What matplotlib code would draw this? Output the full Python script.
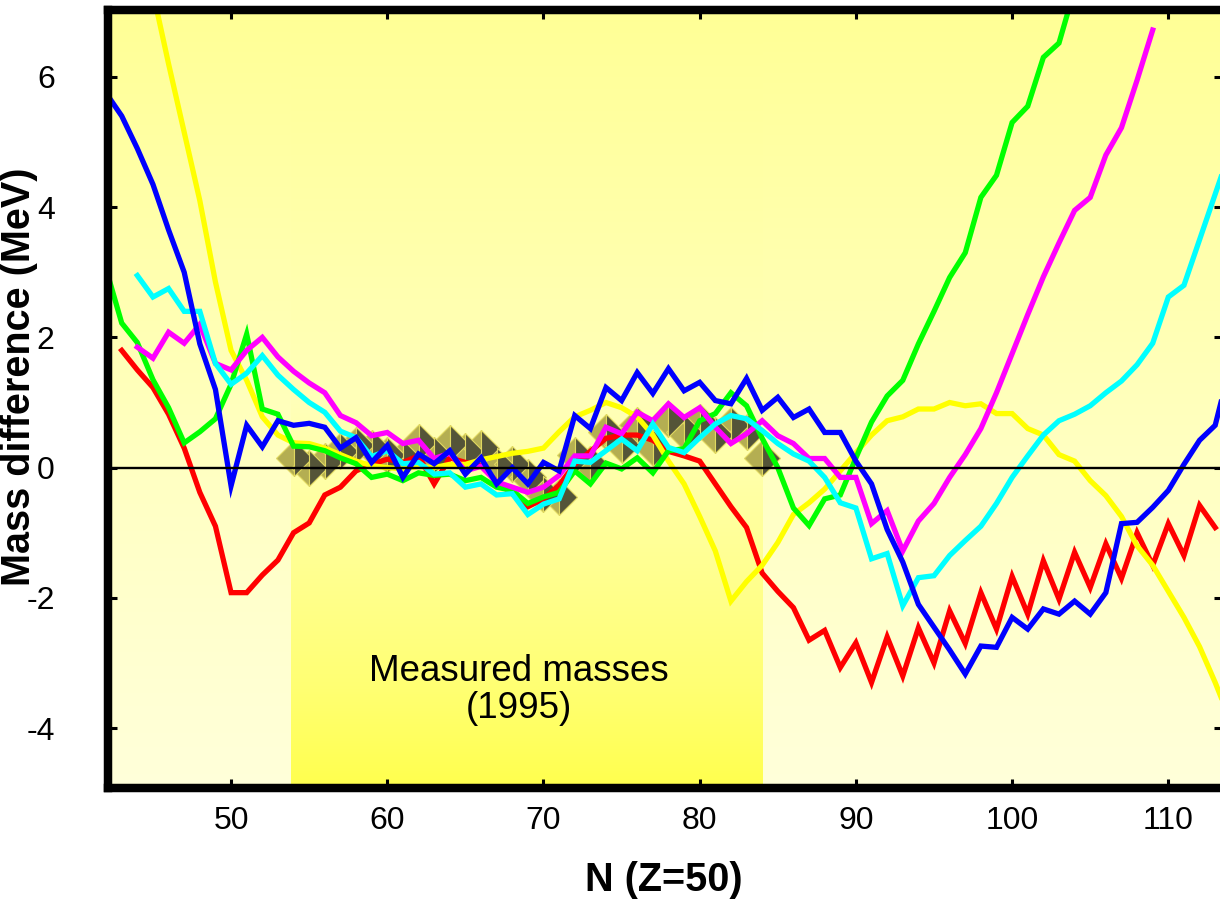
import numpy as np
import matplotlib
matplotlib.use('Agg')
import matplotlib.pyplot as plt

plt.rcParams['font.family'] = ['Liberation Sans', 'DejaVu Sans']
plt.rcParams['axes.unicode_minus'] = False

# ---------------- data ----------------
red_start = 43
red_v = [1.8, 1.5, 1.23, 0.82, 0.3, -0.38, -0.9, -1.92, -1.92, -1.65,
         -1.42, -1.0, -0.85, -0.42, -0.3, -0.05, 0.05, 0.13, 0.08, 0.18,
         -0.25, 0.15, 0.08, 0.05, -0.22, -0.4, -0.6, -0.48, -0.27, 0.05,
         0.25, 0.45, 0.5, 0.5, 0.42, 0.25, 0.18, 0.1, -0.25, -0.6,
         -0.92, -1.62, -1.9, -2.15, -2.65, -2.5, -3.07, -2.69, -3.3, -2.6,
         -3.2, -2.46, -3.0, -2.2, -2.7, -1.92, -2.48, -1.67, -2.25, -1.43,
         -2.02, -1.3, -1.84, -1.17, -1.7, -1.0, -1.5, -0.86, -1.35, -0.58,
         -0.92]

blue_start = 42
blue_v = [5.75, 5.4, 4.9, 4.35, 3.65, 3.0, 1.9, 1.2, -0.28, 0.65,
          0.32, 0.72, 0.65, 0.68, 0.62, 0.3, 0.46, 0.08, 0.34, -0.15,
          0.21, 0.06, 0.26, -0.1, 0.15, -0.25, 0.0, -0.25, 0.08, -0.05,
          0.8, 0.6, 1.23, 1.03, 1.46, 1.14, 1.52, 1.18, 1.31, 1.03,
          0.98, 1.37, 0.88, 1.08, 0.77, 0.9, 0.54, 0.54, 0.1, -0.25,
          -0.95, -1.45, -2.1, -2.45, -2.8, -3.17, -2.74, -2.76, -2.3, -2.48,
          -2.17, -2.25, -2.05, -2.25, -1.92, -0.86, -0.84, -0.61, -0.35, 0.05,
          0.42, 0.65, 1.6]

green_start = 42
green_v = [3.05, 2.22, 1.92, 1.35, 0.92, 0.38, 0.55, 0.75, 1.28, 2.05,
           0.9, 0.82, 0.33, 0.32, 0.26, 0.15, 0.06, -0.15, -0.1, -0.2,
           -0.08, -0.12, -0.1, -0.2, -0.15, -0.3, -0.35, -0.55, -0.45, -0.38,
           -0.05, -0.25, 0.07, -0.02, 0.15, -0.08, 0.26, 0.29, 0.72, 0.83,
           1.15, 0.95, 0.45, 0.0, -0.62, -0.89, -0.48, -0.42, 0.15, 0.7,
           1.1, 1.34, 1.9, 2.4, 2.92, 3.3, 4.15, 4.49, 5.3, 5.55,
           6.3, 6.52, 7.35]

magenta_start = 44
magenta_v = [1.85, 1.68, 2.08, 1.91, 2.2, 1.6, 1.5, 1.8, 2.0, 1.7,
             1.48, 1.3, 1.15, 0.8, 0.69, 0.49, 0.54, 0.37, 0.42, 0.14,
             0.22, -0.05, 0.02, -0.22, -0.3, -0.38, -0.3, -0.12, 0.18, 0.18,
             0.62, 0.52, 0.85, 0.72, 0.98, 0.77, 0.92, 0.62, 0.37, 0.52,
             0.72, 0.49, 0.37, 0.14, 0.14, -0.15, -0.15, -0.86, -0.66, -1.28,
             -0.82, -0.55, -0.15, 0.2, 0.6, 1.15, 1.75, 2.35, 2.93, 3.45,
             3.95, 4.15, 4.8, 5.22, 5.95, 6.72]

cyan_start = 44
cyan_v = [2.95, 2.62, 2.75, 2.4, 2.4, 1.6, 1.28, 1.45, 1.72, 1.42,
          1.2, 1.0, 0.85, 0.56, 0.46, 0.17, 0.26, 0.06, 0.08, -0.1,
          -0.08, -0.3, -0.25, -0.42, -0.4, -0.72, -0.56, -0.48, 0.1, 0.08,
          0.26, 0.44, 0.26, 0.67, 0.31, 0.23, 0.46, 0.67, 0.8, 0.75,
          0.57, 0.37, 0.21, 0.1, -0.15, -0.54, -0.62, -1.4, -1.32, -2.12,
          -1.69, -1.66, -1.35, -1.12, -0.9, -0.55, -0.15, 0.18, 0.5, 0.72,
          0.82, 0.95, 1.15, 1.33, 1.58, 1.91, 2.62, 2.8, 3.5, 4.2,
          4.9]

yellow_start = 44
yellow_v = [8.5, 7.3, 6.2, 5.15, 4.1, 2.85, 1.8, 1.34, 0.78, 0.5,
            0.38, 0.37, 0.3, 0.2, 0.1, 0.03, 0.0, -0.02, 0.02, 0.0,
            0.05, 0.05, 0.12, 0.17, 0.22, 0.25, 0.3, 0.55, 0.78, 0.88,
            1.0, 0.92, 0.78, 0.5, 0.1, -0.25, -0.75, -1.28, -2.05, -1.75,
            -1.5, -1.15, -0.72, -0.54, -0.33, -0.05, 0.23, 0.5, 0.72, 0.78,
            0.9, 0.9, 1.0, 0.95, 0.98, 0.83, 0.83, 0.6, 0.5, 0.2,
            0.1, -0.2, -0.43, -0.75, -1.2, -1.5, -1.9, -2.3, -2.75, -3.3,
            -3.9]

measured_start = 54
measured_v = [0.15, 0.0, 0.1, 0.25, 0.35, 0.3, 0.2, 0.15, 0.4, 0.2,
              0.38, 0.25, 0.3, 0.03, 0.05, -0.15, -0.4, -0.45, 0.2, 0.05,
              0.55, 0.35, 0.65, 0.3, 0.75, 0.55, 0.7, 0.5, 0.65, 0.55,
              0.15]

measured_range = (53.85, 84.05)
xticks = [50, 60, 70, 80, 90, 100, 110]
yticks = [-4, -2, 0, 2, 4, 6]
xlim = (42.09, 113.5)
ylim = (-4.92, 7.02)

# ---------------- figure ----------------
fig = plt.figure(figsize=(12.2, 9), dpi=100)
fig.patch.set_facecolor('white')
ax = fig.add_axes([107.5 / 1220, 1 - 788 / 900, (1223 - 107.5) / 1220, (788 - 10.5) / 900])
ax.set_xlim(*xlim)
ax.set_ylim(*ylim)

# background gradients
ny = 400
t = np.linspace(0, 1, ny)  # top -> bottom
outer_b = np.interp(t, [0, 0.6, 1], [150, 195, 218]) / 255
outer = np.ones((ny, 1, 3))
outer[:, 0, 2] = outer_b
ax.imshow(outer, extent=[xlim[0], xlim[1], ylim[0], ylim[1]], aspect='auto',
          interpolation='bilinear', zorder=0, origin='upper')
band_b = np.interp(t, [0, 0.5, 0.6, 0.87, 1], [150, 185, 168, 115, 78]) / 255
band = np.ones((ny, 1, 3))
band[:, 0, 2] = band_b
ax.imshow(band, extent=[measured_range[0], measured_range[1], ylim[0], ylim[1]],
          aspect='auto', interpolation='bilinear', zorder=0.5, origin='upper')
ax.set_xlim(*xlim)
ax.set_ylim(*ylim)

# measured masses (pyramid-like diamonds)
mN = np.arange(measured_start, measured_start + len(measured_v))
ax.plot(mN, measured_v, linestyle='none', marker='D', markersize=18,
        fillstyle='left', markerfacecolor='#B4AE52', markerfacecoloralt='#545438',
        markeredgecolor='#E0D860', markeredgewidth=0.8, zorder=2)

series = [
    (red_start, red_v, '#FF0000'),
    (yellow_start, yellow_v, '#FFFF00'),
    (green_start, green_v, '#00FF00'),
    (magenta_start, magenta_v, '#FF00FF'),
    (cyan_start, cyan_v, '#00FFFF'),
    (blue_start, blue_v, '#0000FF'),
]
for start, vals, col in series:
    n = np.arange(start, start + len(vals))
    ax.plot(n, vals, color=col, lw=3.8, solid_joinstyle='miter', zorder=3)

ax.axhline(0, color='black', lw=1.7, zorder=4)

ax.text(68.4, -3.41, 'Measured masses\n(1995)', ha='center', va='center',
        fontsize=26.5, linespacing=1.08, zorder=5)

# axes styling
for s in ax.spines.values():
    s.set_linewidth(6.1)
    s.set_zorder(6)
ax.set_xticks(xticks)
ax.set_yticks(yticks)
ax.tick_params(direction='in', length=6.5, width=2.2, top=True, right=True,
               labelsize=23)
ax.tick_params(axis='x', pad=13)
ax.tick_params(axis='y', pad=38)

ax.set_xlabel('N (Z=50)', fontsize=28.5, fontweight='bold')
ax.xaxis.label.set_va('center')
ax.xaxis.set_label_coords(0.499, -0.118)
ax.set_ylabel('Mass difference (MeV)', fontsize=28.5, fontweight='bold')
ax.yaxis.label.set_va('center')
ax.yaxis.label.set_rotation_mode('anchor')
ax.yaxis.set_label_coords(-0.079, 0.529)

fig.savefig('out.png', dpi=100, facecolor='white')
